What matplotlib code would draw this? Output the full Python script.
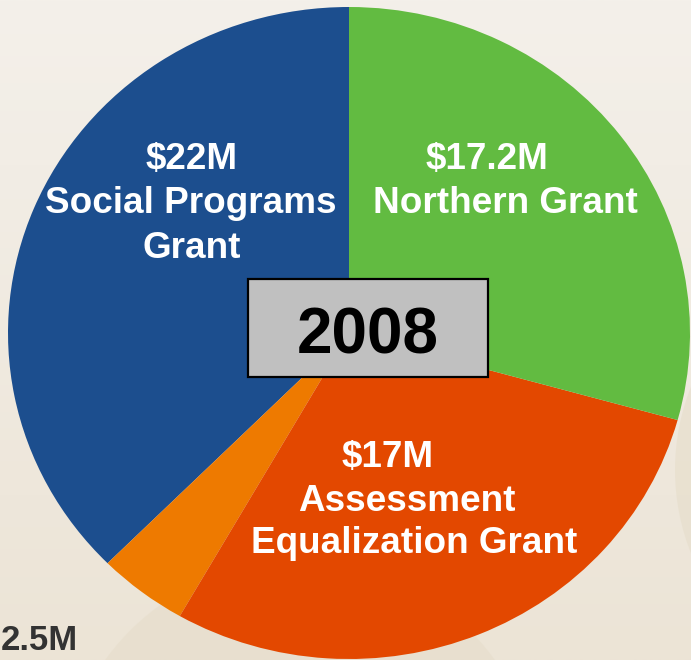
import numpy as np
import matplotlib.pyplot as plt
from matplotlib.patches import Rectangle, Circle

plt.rcParams['font.family'] = ['Liberation Sans', 'DejaVu Sans']

# slices, counter-clockwise from 12 o'clock
grants = ['Social Programs Grant', 'Other', 'Assessment Equalization Grant', 'Northern Grant']
amounts = [22, 2.5, 17, 17.2]
colours = ['#1c4e8e', '#ee7a00', '#e34800', '#62bb41']

social_lines = ['$22M', 'Social Programs', 'Grant']
northern_lines = ['$17.2M', 'Northern Grant']
assess_lines = ['$17M', 'Assessment', 'Equalization Grant']
small_label = '2.5M'
year = '2008'

W, H = 691, 660
CX, CY, RX, RY = 349, 333, 341, 326


def px(x, y):
	# pixel (from top-left) -> data coords of the stretched pie
	return (x - CX) / RX, (CY - y) / RY


fig = plt.figure(figsize=(W / 100, H / 100), dpi=100)

# background gradient
bg = fig.add_axes([0, 0, 1, 1], zorder=0)
grad = np.linspace(0, 1, 256).reshape(-1, 1)
top = np.array([0xf4, 0xf0, 0xea]) / 255
bot = np.array([0xec, 0xe4, 0xd6]) / 255
img = top + (bot - top) * grad[..., None]
bg.imshow(img, aspect='auto', extent=[0, W, H, 0])
bg.add_patch(Circle((300, 800), 240, color='#e5dcc9', alpha=0.5, lw=0))
bg.add_patch(Circle((900, 470), 225, color='#e6ddca', alpha=0.6, lw=0))
bg.set_xlim(0, W)
bg.set_ylim(H, 0)
bg.axis('off')

ax = fig.add_axes([0, 0, 1, 1], zorder=1)
ax.patch.set_alpha(0)
ax.pie(amounts, colors=colours, startangle=90, counterclock=True,
	wedgeprops=dict(linewidth=0))
ax.set_aspect('auto')
ax.set_xlim(px(0, 0)[0], px(W, 0)[0])
ax.set_ylim(px(0, H)[1], px(0, 0)[1])
ax.axis('off')

txt = dict(color='white', fontsize=26.6, fontweight='bold', ha='center', va='baseline')
for (x, y), s in zip([(192, 169), (191, 213), (192, 258)], social_lines):
	ax.text(*px(x, y), s, **txt)
for (x, y), s in zip([(487, 169), (505, 213)], northern_lines):
	ax.text(*px(x, y), s, **txt)
for (x, y), s in zip([(388, 467), (407, 511), (414, 553)], assess_lines):
	ax.text(*px(x, y), s, **txt)

ax.text(*px(1, 650), small_label, color='#333333', fontsize=25, fontweight='bold',
	ha='left', va='baseline')

x0, y0 = px(248, 377)
x1, y1 = px(488, 279)
ax.add_patch(Rectangle((x0, y0), x1 - x0, y1 - y0, facecolor='#c0c0c0',
	edgecolor='black', linewidth=1.6, zorder=3))
ax.text(*px(368, 353), year, color='black', fontsize=46, fontweight='bold',
	ha='center', va='baseline', zorder=4)

fig.savefig('out.png', dpi=100)
